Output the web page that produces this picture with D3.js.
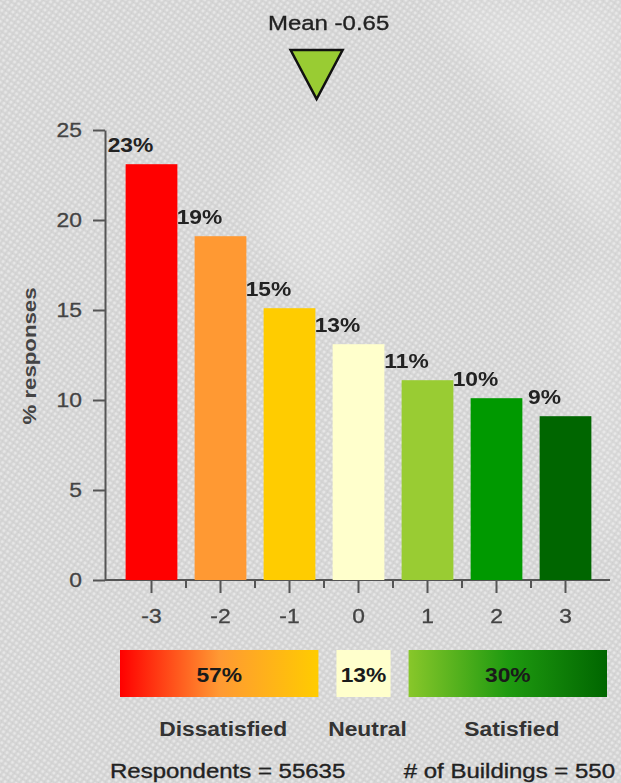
<!DOCTYPE html>
<html lang="en">
  <head>
    <meta charset="UTF-8" />
    <title>Satisfaction distribution</title>
    <style type="text/css">
      body {
        margin: 0;
        background: #d9d9d9;
        font-family: "Liberation Sans", Arial, Helvetica, sans-serif;
      }
      svg {
        display: block;
      }
      .axis path,
      .axis line {
        stroke: #555555;
        stroke-width: 2px;
      }
    </style>
  </head>
  <body>
    <script src="https://d3js.org/d3.v7.min.js"></script>
    <script>
      // chart values
      var scores = [-3, -2, -1, 0, 1, 2, 3];
      var responses = [23.1, 19.1, 15.1, 13.1, 11.1, 10.1, 9.1];
      var barColors = ["#ff0000", "#ff9933", "#ffcc00", "#ffffcc", "#99cc33", "#009900", "#006600"];
      var yTicks = [0, 5, 10, 15, 20, 25];

      var groupNames = ["Dissatisfied", "Neutral", "Satisfied"];
      var groupShares = [57, 13, 30];
      var groupScores = [[-3, -2, -1], [0], [1, 2, 3]];
      var groupGradients = [
        ["#ff0000", "#ff9933", "#ffcc00"],
        ["#ffffcc", "#ffffcc", "#ffffcc"],
        ["#88c72a", "#1f9a10", "#006600"],
      ];

      var meanScore = -0.65;
      var respondents = 55635;
      var buildings = 550;

      var width = 621;
      var height = 783;
      var SX = 1.17; // the text in the picture is drawn a bit wide

      var svg = d3
        .select("body")
        .append("svg")
        .attr("width", width)
        .attr("height", height);

      var defs = svg.append("defs");

      // linen-like background
      var pat = defs
        .append("pattern")
        .attr("id", "linen")
        .attr("width", 5)
        .attr("height", 5)
        .attr("patternUnits", "userSpaceOnUse")
        .attr("patternTransform", "rotate(35)");
      pat.append("rect").attr("width", 5).attr("height", 5).attr("fill", "#d5d5d5");
      pat.append("circle").attr("cx", 2.5).attr("cy", 2.5).attr("r", 1.4).attr("fill", "#e8e8e8");
      pat.append("circle").attr("cx", 0).attr("cy", 0).attr("r", 0.8).attr("fill", "#c6c6c6");
      pat.append("circle").attr("cx", 5).attr("cy", 5).attr("r", 0.8).attr("fill", "#c6c6c6");

      defs
        .append("filter")
        .attr("id", "soft")
        .append("feGaussianBlur")
        .attr("stdDeviation", 18);

      svg.append("rect").attr("width", width).attr("height", height).attr("fill", "url(#linen)");

      var glow = svg.append("g").attr("filter", "url(#soft)").attr("fill", "#ffffff");
      glow.append("path").attr("d", "M430,0 L621,0 L621,260 Z").attr("opacity", 0.18);
      glow.append("path").attr("d", "M300,120 L400,220 L330,330 L250,230 Z").attr("opacity", 0.16);
      glow.append("path").attr("d", "M560,300 L621,250 L621,520 L590,560 Z").attr("opacity", 0.14);

      function addText(parent, x, y, str, size, weight, anchor, fill, rotate) {
        return parent
          .append("text")
          .attr(
            "transform",
            `translate(${x},${y})` + (rotate ? ` rotate(${rotate})` : "") + ` scale(${SX},1)`
          )
          .attr("font-size", size)
          .attr("font-weight", weight)
          .attr("text-anchor", anchor)
          .attr("fill", fill)
          .attr("stroke", weight == "normal" ? fill : "none")
          .attr("stroke-width", 0.35)
          .text(str);
      }

      // scales
      var x = d3
        .scaleBand()
        .domain(scores)
        .range([117, 600])
        .paddingInner(0.25)
        .paddingOuter(0.125);
      var y = d3.scaleLinear().domain([0, 25]).range([580, 130]);

      var xLegend = d3
        .scaleBand()
        .domain(scores)
        .range([120, 607])
        .paddingInner(0.25)
        .paddingOuter(0);
      var xMean = d3
        .scaleLinear()
        .domain([-3, 3])
        .range([xLegend(-3) + xLegend.bandwidth() / 2, xLegend(3) + xLegend.bandwidth() / 2]);

      var axisX0 = 105;

      // y axis
      var yAxis = svg
        .append("g")
        .attr("class", "axis")
        .attr("transform", `translate(${axisX0},0)`)
        .call(d3.axisLeft(y).tickValues(yTicks).tickSize(12).tickSizeOuter(0).tickPadding(11));
      yAxis
        .selectAll("text")
        .attr("x", -23 / SX)
        .attr("transform", `scale(${SX},1)`)
        .attr("font-size", 19.5)
        .attr("font-family", "Liberation Sans, Arial, sans-serif")
        .attr("fill", "#444444")
        .attr("stroke", "#444444")
        .attr("stroke-width", 0.3);

      addText(svg, 36, 356, "% responses", 19, "bold", "middle", "#444444", -90);

      // x axis
      var xAxis = svg
        .append("g")
        .attr("class", "axis")
        .attr("transform", `translate(0,${y(0)})`)
        .call(d3.axisBottom(x).tickSize(13).tickPadding(16));
      xAxis.select(".domain").remove();
      xAxis
        .selectAll("text")
        .attr("transform", `scale(${SX},1)`)
        .attr("font-size", 19.5)
        .attr("font-family", "Liberation Sans, Arial, sans-serif")
        .attr("fill", "#444444")
        .attr("stroke", "#444444")
        .attr("stroke-width", 0.3);

      var gapHalf = (x.step() - x.bandwidth()) / 2;
      xAxis
        .selectAll(".minor")
        .data(scores.slice(1))
        .join("line")
        .attr("class", "minor")
        .attr("x1", (d) => x(d) - gapHalf)
        .attr("x2", (d) => x(d) - gapHalf)
        .attr("y1", 0)
        .attr("y2", 8);
      xAxis
        .append("line")
        .attr("x1", axisX0)
        .attr("x2", 610)
        .attr("y1", 0)
        .attr("y2", 0);

      // bars
      svg
        .append("g")
        .selectAll("rect")
        .data(scores)
        .join("rect")
        .attr("x", (d) => x(d))
        .attr("y", (d, i) => y(responses[i]))
        .attr("width", x.bandwidth())
        .attr("height", (d, i) => y(0) - y(responses[i]))
        .attr("fill", (d, i) => barColors[i]);

      var labels = svg.append("g");
      scores.forEach(function (d, i) {
        addText(
          labels,
          x(d) + x.bandwidth() / 2 - 21,
          y(responses[i]) - 12,
          Math.round(responses[i]) + "%",
          19.5,
          "bold",
          "middle",
          "#222222"
        );
      });

      // mean marker
      var mx = xMean(meanScore);
      svg
        .append("path")
        .attr("d", d3.line()([[mx - 26, 50], [mx + 26, 50], [mx, 99]]) + "Z")
        .attr("fill", "#99cc33")
        .attr("stroke", "#111111")
        .attr("stroke-width", 2.5)
        .attr("stroke-linejoin", "miter");
      addText(svg, mx + 12, 30, "Mean " + meanScore, 20.5, "normal", "middle", "#222222");

      // group legend
      var legend = svg.append("g");
      groupNames.forEach(function (name, i) {
        var first = groupScores[i][0];
        var last = groupScores[i][groupScores[i].length - 1];
        var x0 = xLegend(first);
        var x1 = xLegend(last) + xLegend.bandwidth();

        var grad = defs
          .append("linearGradient")
          .attr("id", "grad" + i)
          .attr("x1", "0%")
          .attr("x2", "100%");
        grad
          .selectAll("stop")
          .data(groupGradients[i])
          .join("stop")
          .attr("offset", (c, k) => k / (groupGradients[i].length - 1))
          .attr("stop-color", (c) => c);

        legend
          .append("rect")
          .attr("x", x0)
          .attr("y", 650)
          .attr("width", x1 - x0)
          .attr("height", 47)
          .attr("fill", `url(#grad${i})`);

        addText(legend, (x0 + x1) / 2, 682, groupShares[i] + "%", 19.5, "bold", "middle", "#1a1a1a");
        addText(legend, (x0 + x1) / 2 + 4, 736, name, 19.5, "bold", "middle", "#333333");
      });

      addText(svg, 110, 778, "Respondents = " + respondents, 20.5, "normal", "start", "#222222");
      addText(svg, 615, 778, "# of Buildings = " + buildings, 20.5, "normal", "end", "#222222");
    </script>
  </body>
</html>
